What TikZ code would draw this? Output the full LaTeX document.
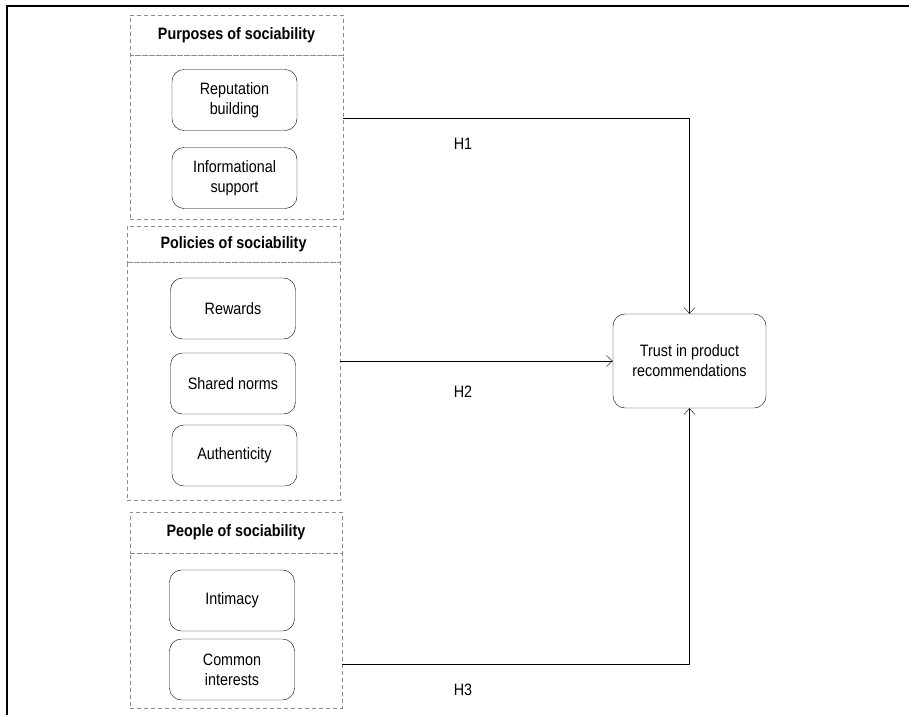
\documentclass[tikz,border=0pt]{standalone}
\usepackage{fontspec}
\setmainfont[FakeStretch=0.87]{Liberation Sans}
\usetikzlibrary{arrows.meta}

\begin{document}
\begin{tikzpicture}
    [
        x=1pt, y=-1pt,
        group/.style={draw=black!45, dashed, dash pattern=on 4pt off 3pt, inner sep=0pt,},
        head/.style={group, font=\fontsize{16.5}{18}\selectfont\bfseries, minimum width=213pt,},
        factor/.style={draw, rounded corners=12pt, minimum width=125pt, minimum height=61pt,
            align=center, font=\fontsize{16.5}{20}\selectfont, inner sep=0pt,},
        edge/.style={-{Straight Barb[length=6pt, width=11pt]},},
        hlabel/.style={font=\fontsize{16.5}{18}\selectfont,},
    ]

    \useasboundingbox (0,0) rectangle (909,715);
    \draw [line width=2pt] (7,715) -- (7,5.5) -- (909,5.5);

    % purposes
    \node (purphead) at (236.5,35)  [head, minimum height=40pt] {Purposes of sociability};
    \node (purpbody) at (236.5,137) [group, minimum width=213pt, minimum height=164pt] {};
    \node (rep)      at (234.5,100) [factor] {Reputation\\building};
    \node (info)     at (234.5,178) [factor] {Informational\\support};

    % policies
    \node (polhead)  at (233.5,244) [head, minimum height=36pt] {Policies of sociability};
    \node (polbody)  at (233.5,381) [group, minimum width=213pt, minimum height=238pt] {};
    \node (rew)      at (233,308.5) [factor] {Rewards};
    \node (norms)    at (233,383.5) [factor] {Shared norms};
    \node (auth)     at (234.5,455.5) [factor] {Authenticity};

    % people
    \node (pplhead)  at (236,532.5) [head, minimum width=212pt, minimum height=41pt] {People of sociability};
    \node (pplbody)  at (236,630.5) [group, minimum width=212pt, minimum height=155pt] {};
    \node (intim)    at (232,600.5) [factor] {Intimacy};
    \node (common)   at (232,669.5) [factor] {Common\\interests};

    % outcome
    \node (trust)    at (689.5,361) [factor, minimum width=153pt, minimum height=94pt] {Trust in product\\recommendations};

    \coordinate (s1) at (purpbody.east |- 0,118);
    \coordinate (s2) at (polbody.east |- trust.west);
    \coordinate (s3) at (pplbody.east |- 0,664);
    \draw [edge] (s1) -| (trust.north);
    \draw [edge] (s2) -- (trust.west);
    \draw [edge] (s3) -| (trust.south);

    \node (h1) at (463,144) [hlabel] {H1};
    \node (h2) at (463,392) [hlabel] {H2};
    \node (h3) at (463,690) [hlabel] {H3};

\end{tikzpicture}
\end{document}
